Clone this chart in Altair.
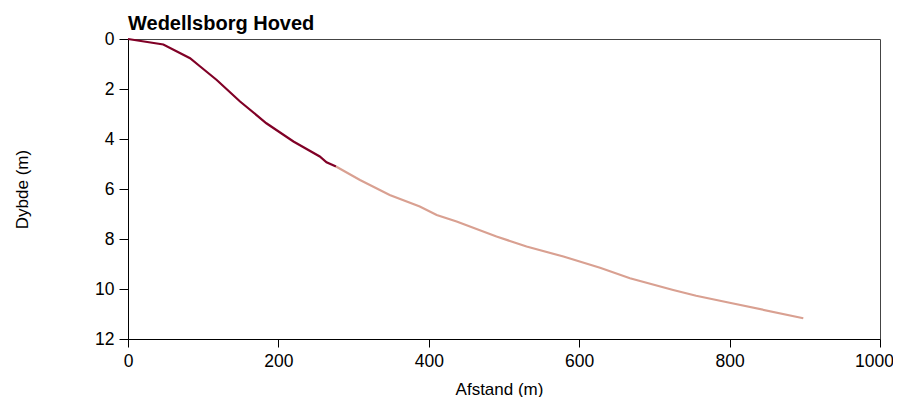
import altair as alt
import pandas as pd

# Near-shore (dark) segment
dark_x = [0, 47, 82.5, 96, 118, 149, 184, 220, 255, 264, 276.6]
dark_d = [0, 0.22, 0.77, 1.1, 1.64, 2.5, 3.37, 4.1, 4.7, 4.93, 5.1]
# Offshore (light) segment
light_x = [276.6, 308.5, 348, 388, 410.5, 437, 490, 530, 579, 627.7, 667.5, 725, 755.5, 800, 898]
light_d = [5.1, 5.64, 6.24, 6.7, 7.04, 7.3, 7.9, 8.3, 8.7, 9.15, 9.57, 10.04, 10.27, 10.55, 11.17]

x_ticks = [0, 200, 400, 600, 800, 1000]
y_ticks = [0, 2, 4, 6, 8, 10, 12]

df = pd.DataFrame({
    "afstand": dark_x + light_x,
    "dybde": dark_d + light_d,
    "seg": ["inner"] * len(dark_x) + ["outer"] * len(light_x),
    "order": list(range(len(dark_x))) + list(range(len(light_x))),
})

FONT = "Liberation Sans"

chart = alt.Chart(df).mark_line(strokeWidth=2.2, strokeCap="butt").encode(
    x=alt.X("afstand:Q", title="Afstand (m)",
            scale=alt.Scale(domain=[0, 1000], nice=False, zero=False),
            axis=alt.Axis(values=x_ticks, format="d", grid=False, tickSize=8, labelPadding=5,
                          labelFlush=False,
                          labelOffset={"condition": {"test": "datum.value == 1000", "value": -6},
                                       "value": 0},
                          titleY=50, titleBaseline="middle", titleX=371)),
    y=alt.Y("dybde:Q", title="Dybde (m)",
            scale=alt.Scale(domain=[0, 12], reverse=True, nice=False),
            axis=alt.Axis(values=y_ticks, format="d", grid=False, tickSize=9, labelPadding=5,
                          labelFlush=False,
                          titleX=-106, titleY=150, titleBaseline="middle")),
    color=alt.Color("seg:N", legend=None,
                    scale=alt.Scale(domain=["inner", "outer"], range=["#800026", "#d9a091"])),
    order="order:Q",
).properties(
    width=752,
    height=300,
    title=alt.TitleParams("Wedellsborg Hoved", anchor="start", frame="group",
                          font=FONT, fontSize=20, fontWeight="bold", color="#000",
                          offset=5, dy=9),
    autosize=alt.AutoSizeParams(type="none"),
    padding={"left": 120, "top": 31, "right": 13, "bottom": 58},
).configure_view(
    stroke="#444", strokeWidth=1
).configure_axis(
    domainColor="#000", tickColor="#000", labelColor="#000", titleColor="#000",
    labelFont=FONT, titleFont=FONT, labelFontSize=17.5, titleFontSize=17,
    titleFontWeight="normal", domainWidth=1, tickWidth=1,
)

chart.save("out.html", embed_options={"renderer": "svg", "actions": False})
